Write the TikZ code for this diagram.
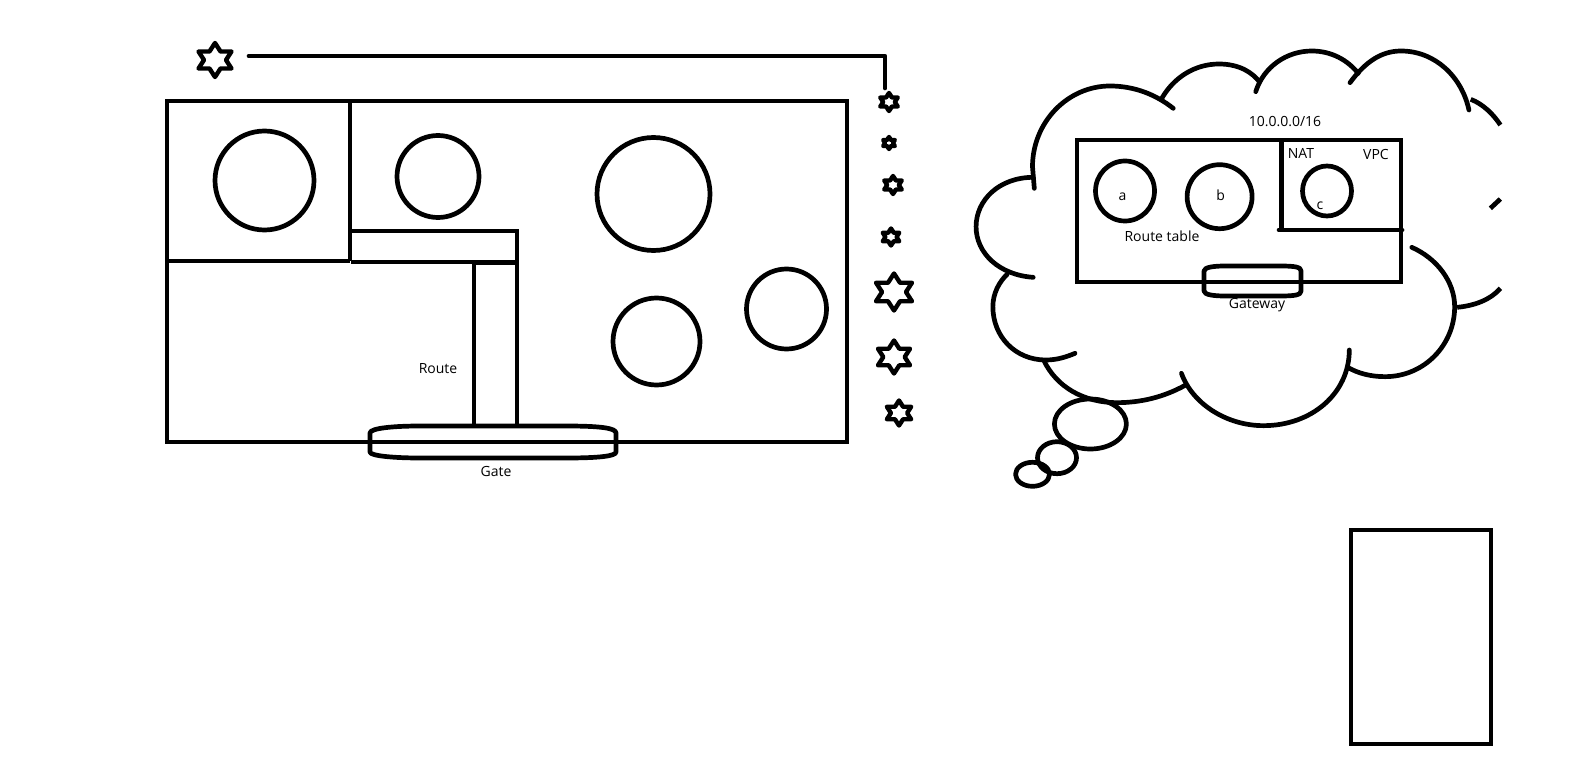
\documentclass[tikz,border=0pt]{standalone}
\usepackage{fontspec}
\setmainfont{Open Sans}
\usetikzlibrary{shapes.geometric}
\tikzset{
  pen/.style={line width=4.7pt,line join=round,line cap=round},
  rectpen/.style={line width=4.7pt,line join=miter,line cap=butt},
  label/.style={font=\fontsize{14}{16}\selectfont,text=black,inner sep=0pt},
  starmark/.style={draw,star,star points=6,star point ratio=1.73,inner sep=0pt,line width=4.4pt,line join=round,minimum size=#1,xscale=1.12,transform shape},
}
\begin{document}
\begin{tikzpicture}[x=1pt,y=-1pt]
\useasboundingbox (0,0) rectangle (1589,762);
% ---- left block
\draw[rectpen] (167,101) rectangle (847,442);
\draw[rectpen] (350,101) -- (350,261);
\draw[rectpen] (165,261) -- (350,261);
\draw[rectpen] (351,231) -- (517,231) -- (517,262) -- (351,262);
\draw[rectpen] (474,262) -- (474,425);
\draw[rectpen] (517,262) -- (517,425);
\draw[rectpen,line width=3pt] (472,263.5) -- (519,263.5);
\draw[pen] (370,433) .. controls (370,428) and (395,426) .. (420,426) -- (566,426) .. controls (600,426) and (616,428) .. (616,433) -- (616,452) .. controls (616,456) and (600,458) .. (566,458) -- (420,458) .. controls (395,458) and (370,456) .. (370,452) -- cycle;
\draw[pen] (264.5,180.5) circle[radius=49.5];
\draw[pen] (438,176.5) circle[radius=41];
\draw[pen] (653.5,194) circle[radius=56.5];
\draw[pen] (656.5,341.5) circle[radius=43.5];
\draw[pen] (786.5,309) circle[radius=40];
\node[label] (route) at (438,369) {Route};
\node[label] (gate) at (496,471) {Gate};
% ---- stars and the line
\node[starmark=34pt] (s0) at (215,60) {};
\node[starmark=18pt] (s1) at (889,102) {};
\node[starmark=12pt] (s2) at (889,143) {};
\node[starmark=18pt] (s3) at (893,185) {};
\node[starmark=17pt] (s4) at (891,237) {};
\node[starmark=37pt] (s5) at (894,292) {};
\node[starmark=33pt] (s6) at (894,357) {};
\node[starmark=25pt] (s7) at (899,413) {};
\coordinate (lineA) at (249,56);
\coordinate (lineB) at (885,88);
\draw[pen] (lineA) -| (lineB);
% ---- cloud, in its own grid
\begin{scope}[shift={(960,40)},x=0.35714pt,y=-0.33333pt]
\draw[pen] (208,445) -- (203,380) .. controls (203,247) and (301,138) .. (420,138) .. controls (490,138) and (550,165) .. (597,205);
\draw[pen] (565,175) .. controls (600,110) and (660,72) .. (725,72) .. controls (785,72) and (820,100) .. (838,125);
\draw[pen] (828,155) .. controls (850,80) and (915,33) .. (985,33) .. controls (1040,33) and (1085,60) .. (1115,100);
\draw[pen] (1092,128) .. controls (1135,65) and (1180,33) .. (1235,33) .. controls (1330,33) and (1405,110) .. (1425,210);
\draw[pen,line cap=butt] (1430,178) .. controls (1465,192) and (1495,225) .. (1513,255);
\draw[pen,line cap=butt] (1485,505) -- (1513,477);
\draw[pen,line cap=butt] (1392,802) .. controls (1440,797) and (1485,780) .. (1513,745);
\draw[pen] (1265,622) .. controls (1335,655) and (1385,725) .. (1385,800) .. controls (1385,915) and (1300,1010) .. (1190,1010) .. controls (1150,1010) and (1115,1000) .. (1087,983);
\draw[pen] (1090,930) .. controls (1090,1060) and (985,1157) .. (850,1157) .. controls (745,1157) and (650,1090) .. (620,1000);
\draw[pen] (632,1035) .. controls (570,1072) and (505,1088) .. (440,1088) .. controls (345,1088) and (270,1040) .. (235,962);
\draw[pen] (322,940) .. controls (295,952) and (270,960) .. (240,960) .. controls (155,960) and (92,890) .. (92,800) .. controls (92,760) and (110,725) .. (132,703);
\draw[pen] (205,712) .. controls (110,705) and (45,640) .. (45,560) .. controls (45,480) and (110,412) .. (205,412);
\end{scope}
\draw[pen] (1090.4,424) ellipse[x radius=36,y radius=25];
\draw[pen] (1057,457.7) ellipse[x radius=19.5,y radius=16];
\draw[pen] (1032.5,474.3) ellipse[x radius=17,y radius=12];
% ---- inner box
\draw[rectpen] (1077,140) rectangle (1401,282);
\draw[rectpen] (1281.5,140) -- (1281.5,230);
\draw[pen] (1279,230) -- (1402,230);
\draw[pen] (1125,191) ellipse[x radius=29.5,y radius=30];
\draw[pen] (1219.6,196.7) ellipse[x radius=32.5,y radius=32];
\draw[pen] (1327,191) ellipse[x radius=24.5,y radius=25];
\draw[pen] (1204,271) .. controls (1204,267) and (1215,266) .. (1225,266) -- (1280,266) .. controls (1295,266) and (1301,267) .. (1301,271) -- (1301,291) .. controls (1301,295) and (1295,296) .. (1280,296) -- (1225,296) .. controls (1215,296) and (1204,295) .. (1204,291) -- cycle;
\node[label] (cidr) at (1285,122) {10.0.0.0/16};
\node[label] (nat) at (1301,153) {NAT};
\node[label] (vpc) at (1376,154) {VPC};
\node[label] (la) at (1122.5,196.5) {a};
\node[label] (lb) at (1220.7,195.5) {b};
\node[label] (lc) at (1320,205.5) {c};
\node[label] (rt) at (1162,236) {Route table};
\node[label] (gw) at (1257,305) {Gateway};
% ---- lower right rectangle
\draw[rectpen] (1351,530) rectangle (1491,744);
\end{tikzpicture}
\end{document}
